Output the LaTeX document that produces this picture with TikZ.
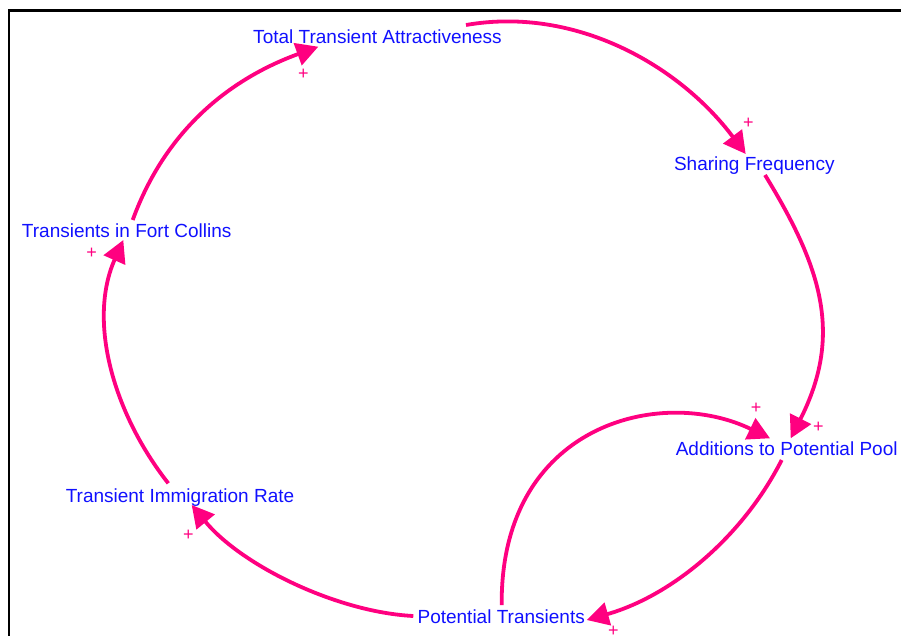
\documentclass[tikz,border=0pt]{standalone}
\usepackage{fontspec}
\setmainfont{Liberation Sans}
\usetikzlibrary{arrows.meta,calc}
\definecolor{linkpink}{RGB}{255,0,128}
\definecolor{varblue}{RGB}{16,16,255}
\begin{document}
\begin{tikzpicture}[x=1pt,y=-1pt,
  var/.style={anchor=base,inner sep=0pt,text=varblue,font=\fontsize{19}{22}\selectfont},
  pol/.style={inner sep=0pt,text=linkpink,font=\fontsize{18}{20}\selectfont},
  link/.style={draw=linkpink,line width=3.8pt,-{Triangle[length=22pt,width=23pt]}},
  framebox/.style={draw=black,line width=2.4pt}]
\useasboundingbox (0,0) rectangle (901,635);
% frame
\draw[framebox] (8.7,640) -- (8.7,10.5) -- (905,10.5);
% variables
\node[var] (tta)  at (377.5,43.5) {Total Transient Attractiveness};
\node[var] (sf)   at (754.3,170)  {Sharing Frequency};
\node[var] (atpp) at (786.7,455)  {Additions to Potential Pool};
\node[var] (pt)   at (501.2,623.3){Potential Transients};
\node[var] (tir)  at (180,502.3)  {Transient Immigration Rate};
\node[var] (tfc)  at (126.7,237.3){Transients in Fort Collins};
% links
\draw[link] ($(tta.base)+(88.5,-18.5)$) .. controls (575,6) and (679,65) .. ($(sf.base)+(-8.6,-16)$);
\draw[link] ($(sf.base)+(10.7,5)$) .. controls (822,268) and (843,335) .. ($(atpp.base)+(4,-16.7)$);
\draw[link] ($(atpp.base)+(-5,5)$) .. controls (742,538) and (671,596) .. ($(pt.base)+(85.5,-3.3)$);
\draw[link] ($(pt.base)+(0.5,-18.3)$) .. controls (500,425) and (660,385) .. ($(atpp.base)+(-16.7,-16.7)$);
\draw[link] ($(pt.base)+(-87.9,-7.3)$) .. controls (336,612) and (241,565) .. ($(tir.base)+(11.7,2.7)$);
\draw[link] ($(tir.base)+(-11.7,-19)$) .. controls (113.3,413.3) and (87.4,321.1) .. ($(tfc.base)+(-3.4,2.7)$);
\draw[link] ($(tfc.base)+(6,-17.3)$) .. controls (165.2,130.7) and (229,79.2) .. ($(tta.base)+(-59.2,3.2)$);
% polarities
\node[pol] (p1) at (748.3,123.3) {+};
\node[pol] (p2) at (818.3,427.7) {+};
\node[pol] (p3) at (613.3,631) {+};
\node[pol] (p4) at (756,408.3)   {+};
\node[pol] (p5) at (188.3,535)   {+};
\node[pol] (p6) at (91.7,253.3)  {+};
\node[pol] (p7) at (303.3,74)    {+};
\end{tikzpicture}
\end{document}
